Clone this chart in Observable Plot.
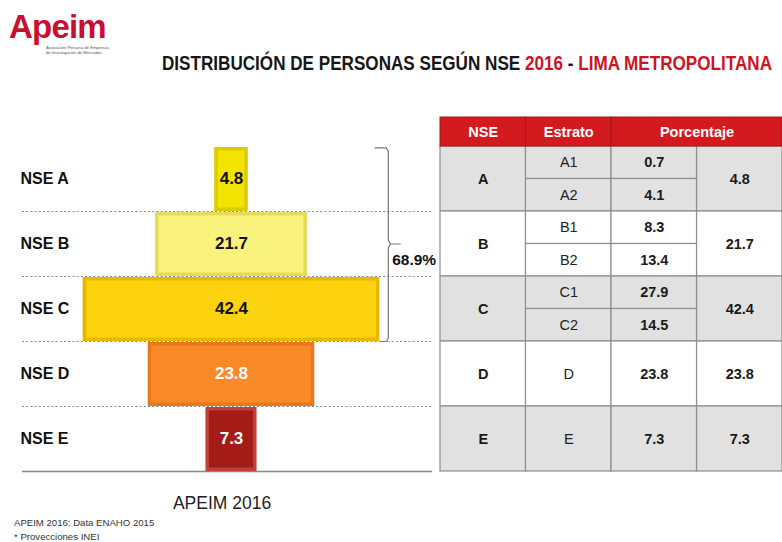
<!DOCTYPE html>
<html><head><meta charset="utf-8">
<script src="https://cdn.jsdelivr.net/npm/d3@7"></script>
<script src="https://cdn.jsdelivr.net/npm/@observablehq/plot@0.6"></script>
<style>
html,body{margin:0;padding:0;background:#fff;}
#wrap{position:relative;width:782px;height:542px;overflow:hidden;font-family:"Liberation Sans",Arial,sans-serif;background:#fff;}
.abs{position:absolute;}
#logo{left:9px;top:11px;line-height:32px;}
#logo .big{font-size:33px;font-weight:bold;color:#c8102e;letter-spacing:-0.8px;line-height:32px;display:block;}
#logo .small{position:absolute;left:37px;top:34px;font-size:4.2px;line-height:5px;color:#555;white-space:nowrap;}
#title{left:162px;top:51px;white-space:nowrap;font-size:20.5px;font-weight:bold;color:#161616;transform-origin:0 0;line-height:24px;}
#title .red{color:#cc1424;}
#pyr{left:0;top:100px;}
#tbl{left:436px;top:100px;}
#apeim{left:122px;width:200px;text-align:center;top:492px;font-size:17.5px;color:#222;line-height:22px;}
#notes{left:14px;top:516px;font-size:9.6px;line-height:13.5px;color:#333;}
</style></head><body>
<div id="wrap">
  <div id="logo" class="abs"><span class="big">Apeim</span><div class="small">Asociación Peruana de Empresas<br>de Investigación de Mercados</div></div>
  <div id="title" class="abs"><span>DISTRIBUCIÓN DE PERSONAS SEGÚN NSE </span><span class="red">2016</span><span> - </span><span class="red">LIMA METROPOLITANA</span></div>
  <div id="pyr" class="abs"></div>
  <div id="tbl" class="abs"></div>
  <div id="apeim" class="abs">APEIM 2016</div>
  <div id="notes" class="abs">APEIM 2016: Data ENAHO 2015<br>* Provecciones INEI</div>
</div>
<script>
// ---- data ----
const nseKeys = ["A", "B", "C", "D", "E"];
const nseLabels = ["NSE A", "NSE B", "NSE C", "NSE D", "NSE E"];
const nseValues = [4.8, 21.7, 42.4, 23.8, 7.3];
const estratoLabels = ["A1", "A2", "B1", "B2", "C1", "C2", "D", "E"];
const estratoGroups = ["A", "A", "B", "B", "C", "C", "D", "E"];
const estratoValues = [0.7, 4.1, 8.3, 13.4, 27.9, 14.5, 23.8, 7.3];
const tableHeaders = ["NSE", "Estrato", "Porcentaje"];

// ---- styles ----
const faceColors = ["#f2e400", "#f9f27c", "#fdd20e", "#fa8a28", "#a41b17"];
const edgeColors = ["#dccb00", "#e6dc5c", "#e8b800", "#e7781c", "#c0403a"];
const valueColors = ["#111", "#111", "#111", "#fff", "#fff"];
const FONT = "'Liberation Sans', Arial, sans-serif";
const fmt = d3.format(".1f");

// fit title width
const t = document.getElementById("title");
const tw = t.getBoundingClientRect().width;
t.style.transform = `scaleX(${610 / tw})`;

// ---- pyramid ----
const CENTER = 231, PX = 7.0, LEFT = 22, RIGHT = 432, W1 = 441, H = 380;
const rows = nseKeys.map((k, i) => ({k, i, label: nseLabels[i], value: nseValues[i]}));
const top3 = rows.slice(0, 3);
const sumTop = d3.sum(top3, d => d.value);
const bx = d3.max(top3, d => d.value) / 2 + 1.2;
const mid = top3.length / 2;
const brace = [[bx - 1.9, 0.02], [bx - 0.3, 0.02], [bx, 0.07], [bx, mid - 0.06], [bx + 0.3, mid], [bx + 1.7, mid],
  [bx + 0.3, mid], [bx, mid + 0.06], [bx, top3.length - 0.05], [bx - 0.3, top3.length], [bx - 1.1, top3.length]];

const pyr = Plot.plot({
  width: W1, height: H,
  marginLeft: LEFT, marginRight: W1 - RIGHT, marginTop: 46, marginBottom: 9,
  x: {domain: [(LEFT - CENTER) / PX, (RIGHT - CENTER) / PX], axis: null},
  y: {domain: [0, nseKeys.length], reverse: true, axis: null},
  color: {type: "identity"},
  style: {fontFamily: FONT, background: "transparent", overflow: "visible"},
  marks: [
    Plot.ruleY(d3.range(1, nseKeys.length), {stroke: "#8a8a8a", strokeDasharray: "2,2.2", strokeWidth: 1.1}),
    Plot.ruleY([nseKeys.length], {stroke: "#888", strokeWidth: 1.3}),
    Plot.rect(rows, {x1: d => -d.value / 2, x2: d => d.value / 2, y1: d => d.i, y2: d => d.i + 1, fill: d => edgeColors[d.i], insetTop: 1}),
    Plot.rect(rows, {x1: d => -d.value / 2, x2: d => d.value / 2, y1: d => d.i, y2: d => d.i + 1, fill: d => faceColors[d.i], inset: 3.5, insetTop: 4.5}),
    Plot.text(rows, {y: d => d.i + 0.5, text: "label", frameAnchor: "left", textAnchor: "start", dx: -2, fontSize: 16, fontWeight: "bold", fill: "#111"}),
    Plot.text(rows, {x: 0, y: d => d.i + 0.5, text: d => fmt(d.value), fill: d => valueColors[d.i], fontSize: 17, fontWeight: "bold"}),
    Plot.line(brace, {x: d => d[0], y: d => d[1], stroke: "#777", strokeWidth: 1.2}),
    Plot.text([sumTop], {x: bx + 0.55, y: 1.75, text: d => fmt(d) + "%", textAnchor: "start", fontSize: 15.5, fontWeight: "bold", fill: "#111"})
  ]
});
document.getElementById("pyr").appendChild(pyr);

// ---- table ----
const HEADER_H = 29 / 65;
const headSpans = [1, 1, 2];
let cx = 0;
const headCells = tableHeaders.map((h, j) => {
  const c = {x1: cx, x2: cx + headSpans[j], y1: -HEADER_H, y2: 0, text: h};
  cx += headSpans[j];
  return c;
});
const bodyBold = [], bodyReg = [], bodyCells = [];
nseKeys.forEach((k, i) => {
  const fill = i % 2 === 0 ? "#e1e1e1" : "#ffffff";
  const subs = estratoLabels.map((e, j) => ({e, v: estratoValues[j], g: estratoGroups[j]})).filter(d => d.g === k);
  const n = subs.length;
  const c0 = {x1: 0, x2: 1, y1: i, y2: i + 1, text: k, fill};
  const c3 = {x1: 3, x2: 4, y1: i, y2: i + 1, text: fmt(nseValues[i]), fill};
  bodyCells.push(c0, c3); bodyBold.push(c0, c3);
  subs.forEach((s, j) => {
    const a = {x1: 1, x2: 2, y1: i + j / n, y2: i + (j + 1) / n, text: s.e, fill};
    const b = {x1: 2, x2: 3, y1: i + j / n, y2: i + (j + 1) / n, text: fmt(s.v), fill};
    bodyCells.push(a, b); bodyReg.push(a); bodyBold.push(b);
  });
});
const cxf = d => (d.x1 + d.x2) / 2, cyf = d => (d.y1 + d.y2) / 2;
const tbl = Plot.plot({
  width: 346, height: H,
  marginLeft: 4, marginRight: 0, marginTop: 46, marginBottom: 9,
  x: {domain: [0, 4], axis: null},
  y: {domain: [0, nseKeys.length], reverse: true, axis: null},
  color: {type: "identity"},
  style: {fontFamily: FONT, background: "transparent", overflow: "visible"},
  marks: [
    Plot.rect(bodyCells, {x1: "x1", x2: "x2", y1: "y1", y2: "y2", fill: "fill", stroke: "#8e8e8e", strokeWidth: 1.2}),
    Plot.rect(headCells, {x1: "x1", x2: "x2", y1: "y1", y2: "y2", fill: "#d31a1f", stroke: "#a51818", strokeWidth: 1}),
    Plot.text(headCells, {x: cxf, y: cyf, text: "text", fill: "#fff", fontSize: 14.5, fontWeight: "bold"}),
    Plot.text(bodyBold, {x: cxf, y: cyf, text: "text", fill: "#1a1a1a", fontSize: 14.5, fontWeight: "bold"}),
    Plot.text(bodyReg, {x: cxf, y: cyf, text: "text", fill: "#222", fontSize: 14.5})
  ]
});
document.getElementById("tbl").appendChild(tbl);
</script>
</body></html>
